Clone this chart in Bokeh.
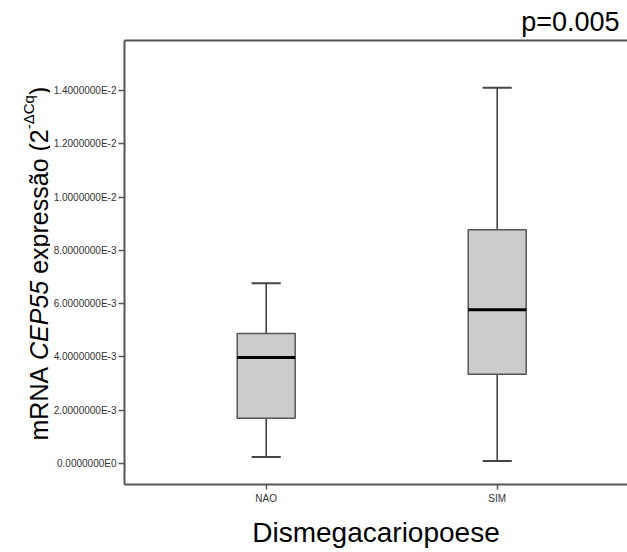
import math
from bokeh.plotting import figure
from bokeh.layouts import row
from bokeh.models import FixedTicker, Label, LinearAxis, Range1d, ColumnDataSource, Title
from bokeh.embed import file_html
from bokeh.resources import INLINE

# ---- data ----
groups = ["NAO", "SIM"]
positions = [1, 2]
lower_whisker = [0.00024, 0.00009]
q1 = [0.00170, 0.00335]
median = [0.00398, 0.00577]
q3 = [0.00488, 0.00877]
upper_whisker = [0.00677, 0.01411]

y_ticks = [0.0, 0.002, 0.004, 0.006, 0.008, 0.010, 0.012, 0.014]
y_tick_labels = ["0.0000000E0", "2.0000000E-3", "4.0000000E-3", "6.0000000E-3",
                 "8.0000000E-3", "1.0000000E-2", "1.2000000E-2", "1.4000000E-2"]

AXIS = "#555555"
FONT = "Liberation Sans"
BOX_W = 0.251
CAP_W = 0.126
W, H = 627, 552
LW = 50          # width of the strip holding the y-axis title
FRAME_TOP, FRAME_BOTTOM = 40, 484

p = figure(width=W - LW, height=H, output_backend="svg", toolbar_location=None,
           x_range=Range1d(0.3866, 2.564), y_range=Range1d(-0.00079, 0.01588),
           min_border_left=124 - LW, min_border_right=0, min_border_top=FRAME_TOP,
           min_border_bottom=H - FRAME_BOTTOM)
p.background_fill_color = "white"
p.border_fill_color = "white"
p.outline_line_color = None
p.xgrid.visible = False
p.ygrid.visible = False

src = ColumnDataSource(dict(
    x=positions, lw=lower_whisker, q1=q1, med=median, q3=q3, uw=upper_whisker,
    cl=[x - CAP_W / 2 for x in positions], cr=[x + CAP_W / 2 for x in positions],
    bl=[x - BOX_W / 2 for x in positions], br=[x + BOX_W / 2 for x in positions],
))

# whiskers
p.segment(x0="x", y0="q3", x1="x", y1="uw", source=src, line_color="#444444", line_width=1.6)
p.segment(x0="x", y0="lw", x1="x", y1="q1", source=src, line_color="#444444", line_width=1.6)
# caps
p.segment(x0="cl", y0="uw", x1="cr", y1="uw", source=src, line_color="#444444", line_width=2)
p.segment(x0="cl", y0="lw", x1="cr", y1="lw", source=src, line_color="#444444", line_width=2)
# boxes
p.vbar(x="x", bottom="q1", top="q3", width=BOX_W, source=src, fill_color="#cccccc",
       line_color="#555555", line_width=1.5)
# medians
p.segment(x0="bl", y0="med", x1="br", y1="med", source=src, line_color="black", line_width=3)

# y axis
ya = p.yaxis[0]
ya.ticker = FixedTicker(ticks=y_ticks)
ya.major_label_overrides = {t: l for t, l in zip(y_ticks, y_tick_labels)}
ya.major_label_text_font = FONT
ya.major_label_text_font_size = "10px"
ya.major_label_text_color = "#333333"
ya.axis_line_color = AXIS
ya.axis_line_width = 2
ya.major_tick_line_color = AXIS
ya.major_tick_line_width = 1.5
ya.major_tick_out = 6
ya.major_tick_in = 0
ya.minor_tick_line_color = None
ya.major_label_standoff = 2

# x axis
xa = p.xaxis[0]
xa.ticker = FixedTicker(ticks=positions)
xa.major_label_overrides = {x: g for x, g in zip(positions, groups)}
xa.major_label_text_font = FONT
xa.major_label_text_font_size = "10px"
xa.major_label_text_color = "#333333"
xa.axis_line_color = AXIS
xa.axis_line_width = 2
xa.major_tick_line_color = AXIS
xa.major_tick_line_width = 1.5
xa.major_tick_out = 5
xa.major_tick_in = 0
xa.minor_tick_line_color = None
xa.major_label_standoff = 3
xa.axis_label = "Dismegacariopoese"
xa.axis_label_text_font = FONT
xa.axis_label_text_font_size = "28px"
xa.axis_label_text_font_style = "normal"
xa.axis_label_text_color = "black"
xa.axis_label_standoff = 10

# top frame line
top = LinearAxis(axis_line_color=AXIS, axis_line_width=2, major_tick_line_color=None,
                 minor_tick_line_color=None, major_label_text_font_size="0px",
                 ticker=FixedTicker(ticks=[]))
p.add_layout(top, "above")

# p-value, top right
p.add_layout(Title(text="p=0.005", align="right", offset=8, standoff=8,
                   text_font=FONT, text_font_size="27px", text_font_style="normal",
                   text_color="black"), "above")

# ---- strip with the y-axis title (mixed styles) ----
yl = figure(width=LW, height=H, output_backend="svg", toolbar_location=None,
            x_axis_location=None, y_axis_location=None, min_border=0,
            x_range=Range1d(0, 1), y_range=Range1d(0, 1))
yl.outline_line_color = None
yl.xgrid.visible = False
yl.ygrid.visible = False
yl.border_fill_color = "white"
yl.background_fill_color = "white"

# the row aligns this strip's frame with the main frame, so screen y counts from FRAME_BOTTOM
def lab(text, x_px, y_px, size, style="normal"):
    yl.add_layout(Label(x=x_px, y=FRAME_BOTTOM - y_px, x_units="screen", y_units="screen",
                        text=text, text_font=FONT, text_font_size=f"{size}px",
                        text_font_style=style, text_color="black", text_align="left",
                        text_baseline="alphabetic", angle=math.pi / 2))

f = 25
s = 15
NB = "\u00a0"
y0 = 440
lab("mRNA" + NB, 38, y0, f)
y1 = y0 - 3.222 * f
lab("CEP55", 38, y1, f, style="italic")
y2 = y1 - 3.168 * f
lab(NB + "expressão" + NB + "(2", 38, y2, f)
y3 = y2 - 6.058 * f
lab("-\u0394Cq", 28, y3, s)
y4 = y3 - 2.279 * s
lab(")", 38, y4, f)

layout = row(yl, p)
open("out.html", "w").write(file_html(layout, INLINE))
